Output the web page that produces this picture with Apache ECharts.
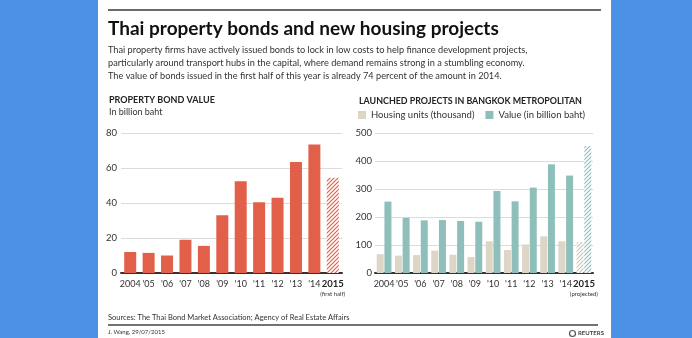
<!DOCTYPE html>
<html><head><meta charset="utf-8">
<script src="https://cdn.jsdelivr.net/npm/echarts@6/dist/echarts.min.js"></script>
<style>html,body{margin:0;padding:0;background:#4d91e6}#c{width:692px;height:338px}</style>
</head><body><div id="c"></div>
<script>
// ---- data ----
const years = ['2004', "'05", "'06", "'07", "'08", "'09", "'10", "'11", "'12", "'13", "'14", '2015'];
const bondValue = [12, 11.5, 10, 19, 15.5, 33, 52.5, 40.5, 43, 63.5, 73.5, 54.5];
const housingUnits = [67, 62, 64, 80, 65, 57, 113, 82, 102, 131, 113, 110];
const projectValue = [255, 197, 188, 189, 186, 183, 293, 256, 305, 388, 348, 453];
const bondAxis = { min: 0, max: 80, interval: 20 };
const projectAxis = { min: 0, max: 500, interval: 100 };
const seriesNames = ['Housing units (thousand)', 'Value (in billion baht)'];
const title = 'Thai property bonds and new housing projects';
const desc = [
  'Thai property firms have actively issued bonds to lock in low costs to help finance development projects,',
  'particularly around transport hubs in the capital, where demand remains strong in a stumbling economy.',
  'The value of bonds issued in the first half of this year is already 74 percent of the amount in 2014.'
];

const RED = '#e2604a', TEAL = '#8ebfbb', BEIGE = '#ddd5c6';
const FONT = 'Lato';

function hatch(color) {
  const c = document.createElement('canvas'); c.width = 4; c.height = 4;
  const g = c.getContext('2d');
  g.fillStyle = '#fff'; g.fillRect(0, 0, 4, 4);
  g.strokeStyle = color; g.lineWidth = 1.2;
  g.beginPath();
  g.moveTo(0, 4); g.lineTo(4, 0);
  g.moveTo(-1, 1); g.lineTo(1, -1);
  g.moveTo(3, 5); g.lineTo(5, 3);
  g.stroke();
  return { image: c, repeat: 'repeat' };
}
const last = years.length - 1;
function withHatch(arr, color) {
  return arr.map((v, i) => i === last ? { value: v, itemStyle: { color: hatch(color) } } : v);
}
function xLabel(note) {
  return {
    margin: 5, color: '#333', fontSize: 9, fontFamily: FONT, interval: 0, lineHeight: 12,
    formatter: (v) => v === '2015' ? '{b|2015}\n{s|' + note + '}' : v,
    rich: { b: { fontWeight: 'bold', fontSize: 9.5, color: '#222', fontFamily: FONT, lineHeight: 12 },
            s: { fontSize: 6, color: '#333', fontFamily: FONT, lineHeight: 8 } }
  };
}
const yCommon = {
  type: 'value', axisLine: { show: false }, axisTick: { show: false },
  splitLine: { lineStyle: { color: '#dcdcdc', width: 1 } }
};
const xCommon = {
  type: 'category', data: years, axisTick: { show: false },
  axisLine: { lineStyle: { color: '#333', width: 2 } }
};

const g = [];
g.push({ type: 'rect', shape: { x: 98, y: 0, width: 513, height: 338 }, style: { fill: '#fff' }, z: -10 });
g.push({ type: 'line', shape: { x1: 108, y1: 10, x2: 601, y2: 10 }, style: { stroke: '#6b6b6b', lineWidth: 2 } });
g.push({ type: 'text', x: 108, y: 29, style: { text: title, font: 'bold 19px ' + FONT, fill: '#111', verticalAlign: 'middle' } });
desc.forEach((t, i) => g.push({ type: 'text', x: 108, y: 50 + i * 13, style: { text: t, font: '9.2px ' + FONT, fill: '#333', verticalAlign: 'middle' } }));
g.push({ type: 'text', x: 109, y: 100, style: { text: 'PROPERTY BOND VALUE', font: 'bold 9px ' + FONT, fill: '#222', verticalAlign: 'middle' } });
g.push({ type: 'text', x: 109, y: 112, style: { text: 'In billion baht', font: '9px ' + FONT, fill: '#333', verticalAlign: 'middle' } });
g.push({ type: 'text', x: 359, y: 101, style: { text: 'LAUNCHED PROJECTS IN BANGKOK METROPOLITAN', font: 'bold 8.9px ' + FONT, fill: '#222', verticalAlign: 'middle' } });
g.push({ type: 'text', x: 108, y: 318, style: { text: 'Sources: The Thai Bond Market Association; Agency of Real Estate Affairs', font: '7.5px ' + FONT, fill: '#333', verticalAlign: 'middle' } });
g.push({ type: 'line', shape: { x1: 108, y1: 325, x2: 598, y2: 325 }, style: { stroke: '#444', lineWidth: 1.5 } });
g.push({ type: 'text', x: 108, y: 332, style: { text: 'J. Wang, 29/07/2015', font: '6px ' + FONT, fill: '#333', verticalAlign: 'middle' } });
g.push({ type: 'circle', shape: { cx: 572.5, cy: 333.5, r: 3 }, style: { fill: 'none', stroke: '#555', lineWidth: 1.2 } });
g.push({ type: 'text', x: 578, y: 333.5, style: { text: 'REUTERS', font: 'bold 6px ' + FONT, fill: '#444', verticalAlign: 'middle' } });

const chart = echarts.init(document.getElementById('c'));
chart.setOption({
  backgroundColor: '#4d91e6',
  animation: false,
  textStyle: { fontFamily: FONT },
  graphic: g,
  legend: {
    left: 358, top: 110, padding: 0, itemWidth: 8, itemHeight: 8, itemGap: 11, icon: 'rect',
    data: seriesNames, textStyle: { fontSize: 9.5, color: '#333', fontFamily: FONT }
  },
  grid: [
    { left: 121, top: 133, width: 221, height: 140 },
    { left: 375, top: 133, width: 218, height: 140 }
  ],
  xAxis: [
    Object.assign({}, xCommon, { gridIndex: 0, axisLabel: xLabel('(first half)') }),
    Object.assign({}, xCommon, { gridIndex: 1, axisLabel: xLabel('(projected)') })
  ],
  yAxis: [
    Object.assign({}, yCommon, bondAxis, { gridIndex: 0, axisLabel: { margin: 4, color: '#333', fontSize: 9.5, fontFamily: FONT } }),
    Object.assign({}, yCommon, projectAxis, { gridIndex: 1, axisLabel: { margin: 3, color: '#333', fontSize: 9.5, fontFamily: FONT } })
  ],
  series: [
    { name: 'Bond value', type: 'bar', xAxisIndex: 0, yAxisIndex: 0, barWidth: 12, itemStyle: { color: RED }, data: withHatch(bondValue, RED) },
    { name: seriesNames[0], type: 'bar', xAxisIndex: 1, yAxisIndex: 1, barWidth: 7, barGap: '10%', itemStyle: { color: BEIGE }, data: withHatch(housingUnits, '#cfc6b4') },
    { name: seriesNames[1], type: 'bar', xAxisIndex: 1, yAxisIndex: 1, barWidth: 7, barGap: '10%', itemStyle: { color: TEAL }, data: withHatch(projectValue, TEAL) }
  ]
});
</script></body></html>
